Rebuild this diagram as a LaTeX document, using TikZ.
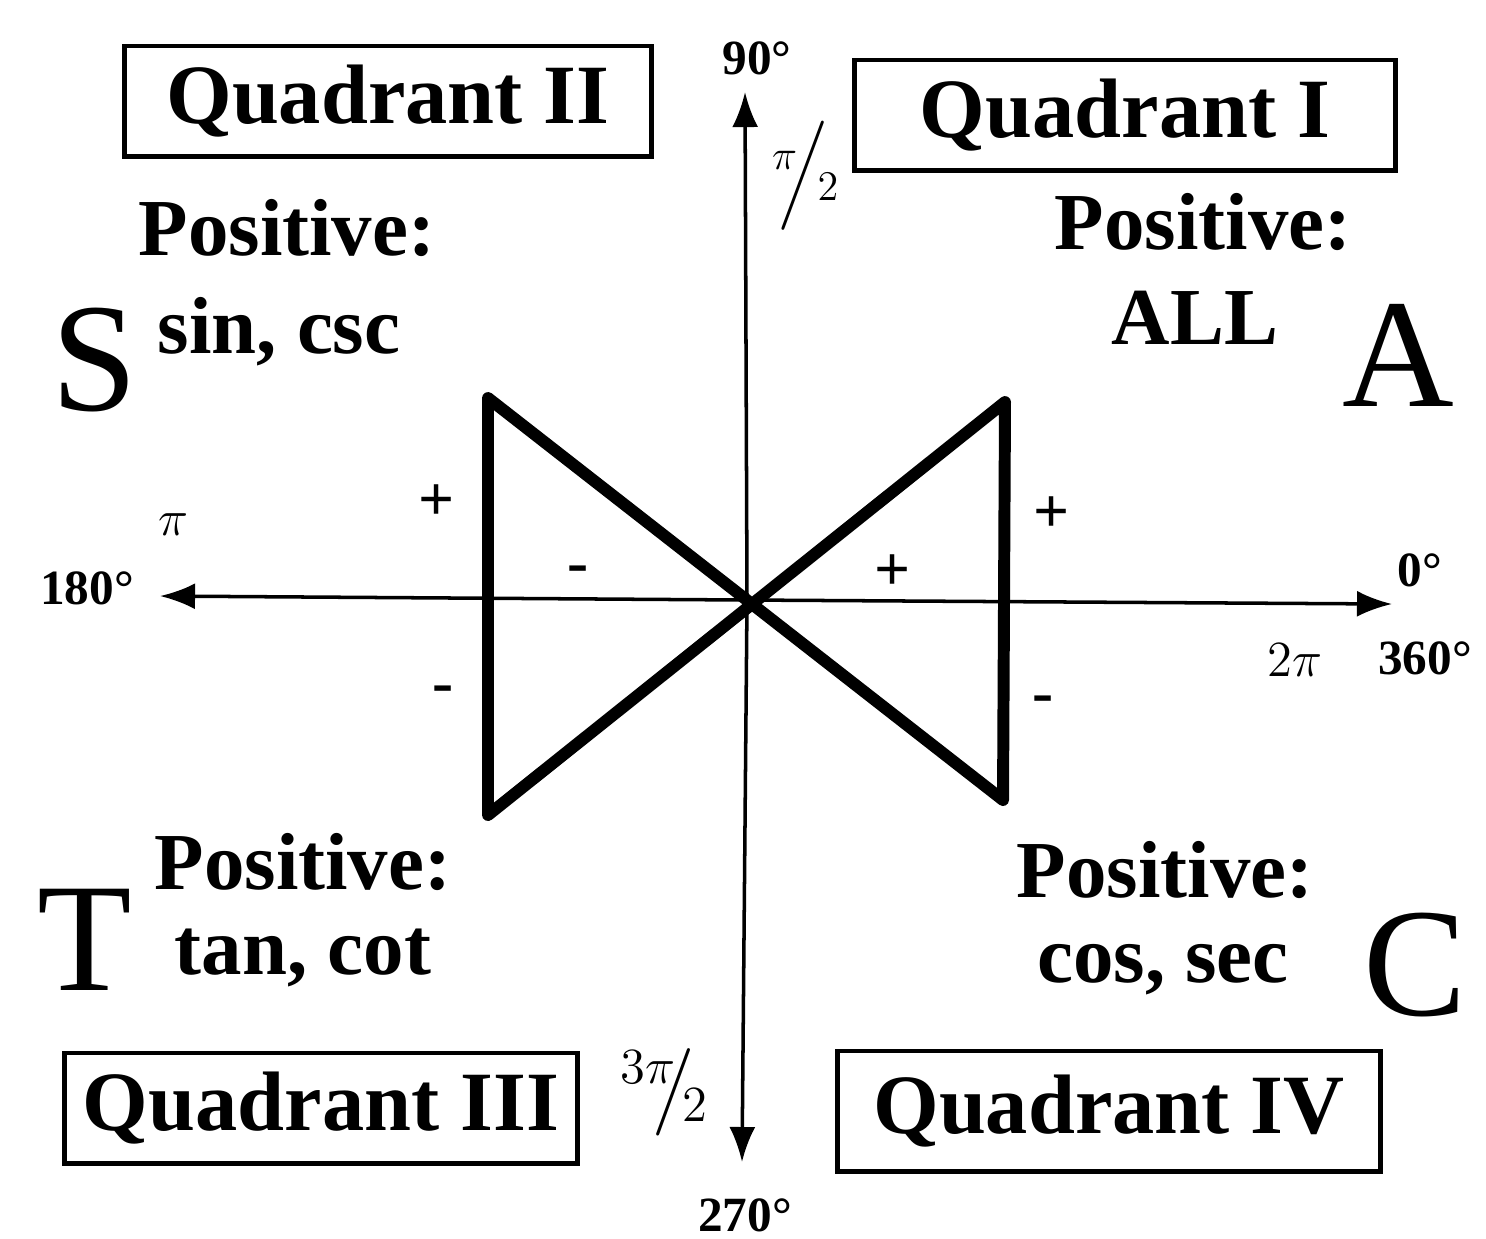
\documentclass[tikz,border=0pt]{standalone}
\usepackage{amsmath}
\usepackage{fontspec}
\setmainfont{Liberation Serif}
\usetikzlibrary{arrows.meta,positioning}
\tikzset{
  kvad/.style={draw,line width=1.4pt,inner xsep=4pt,minimum height=1.1cm,
    font=\bfseries\fontsize{24}{24}\selectfont},
  poz/.style={font=\bfseries\fontsize{23}{26}\selectfont},
  betu/.style={font=\fontsize{44}{44}\selectfont},
  szog/.style={font=\bfseries\fontsize{14}{14}\selectfont,inner sep=1pt},
  jel/.style={font=\bfseries\fontsize{18}{18}\selectfont,inner sep=1pt},
  tengely/.style={line width=1pt,-{Latex[length=3.5mm,width=2.6mm]}},
  csokor/.style={line width=3.4pt,line join=round},
}

\begin{document}
\begin{tikzpicture}[x=0.01cm,y=-0.01cm]
  \useasboundingbox (0,0) rectangle (1486,1238);
  % axes
  \coordinate (o) at (747,600);
  \coordinate (fel) at (745,92);
  \coordinate (le) at (742,1162);
  \coordinate (bal) at (160,596);
  \coordinate (jobb) at (1392,604);
  \draw[tengely] (o) -- (fel);
  \draw[tengely] (o) -- (le);
  \draw[tengely] (o) -- (bal);
  \draw[tengely] (o) -- (jobb);
  % bow tie
  \coordinate (bf) at (488,398); \coordinate (ba) at (488,815);
  \coordinate (jf) at (1005,402); \coordinate (ja) at (1003,800);
  \draw[csokor] (bf) -- (ja) -- (jf) -- (ba) -- cycle;
  % quadrant boxes
  \node[kvad,minimum width=5.27cm] (q2) at (388,101) {Quadrant II};
  \node[kvad,minimum width=5.4cm] (q1) at (1125,115) {Quadrant I};
  \node[kvad,minimum width=5.13cm] (q3) at (321,1108) {Quadrant III};
  \node[kvad,minimum width=5.42cm,minimum height=1.2cm] (q4) at (1109,1111) {Quadrant IV};
  % positive lists
  \node[poz] (p2) at (287,228) {Positive:};
  \node[poz] (f2) at (279,332) {sin, csc};
  \node[poz] (p1) at (1203,222) {Positive:};
  \node[poz] (f1) at (1195,318) {ALL};
  \node[poz] (p3) at (303,862) {Positive:};
  \node[poz] (f3) at (303,958) {tan, cot};
  \node[poz] (p4) at (1165,870) {Positive:};
  \node[poz] (f4) at (1163,970) {cos, sec};
  \node[betu] (s) at (95,360) {S};
  \node[betu] (a) at (1398,355) {A};
  \node[betu] (t) at (85,940) {T};
  \node[betu] (c) at (1415,965) {C};
  % angles
  \node[szog] (d90) at (757,58) {90°};
  \node[szog,inner sep=0pt] (r90) at (806,176) {\fontsize{18}{18}\selectfont$^{\pi}\!\!\Big/\!_{2}$};
  \node[szog] (d180) at (87,588) {180°};
  \node[szog] (r180) at (173,525) {$\pi$};
  \node[szog] (d0) at (1420,570) {0°};
  \node[szog] (r0) at (1295,660) {$2\pi$};
  \node[szog] (d360) at (1425,658) {360°};
  \node[szog] (r270) at (665,1092) {\fontsize{20}{20}\selectfont$^{3\pi}\!\!\big/\!_{2}$};
  \node[szog] (d270) at (745,1215) {270°};
  % signs
  \node[jel] (s1) at (437,503) {+};
  \node[jel] (s2) at (443,695) {-};
  \node[jel] (s3) at (578,575) {-};
  \node[jel] (s4) at (893,573) {+};
  \node[jel] (s5) at (1052,515) {+};
  \node[jel] (s6) at (1043,705) {-};
\end{tikzpicture}
\end{document}
